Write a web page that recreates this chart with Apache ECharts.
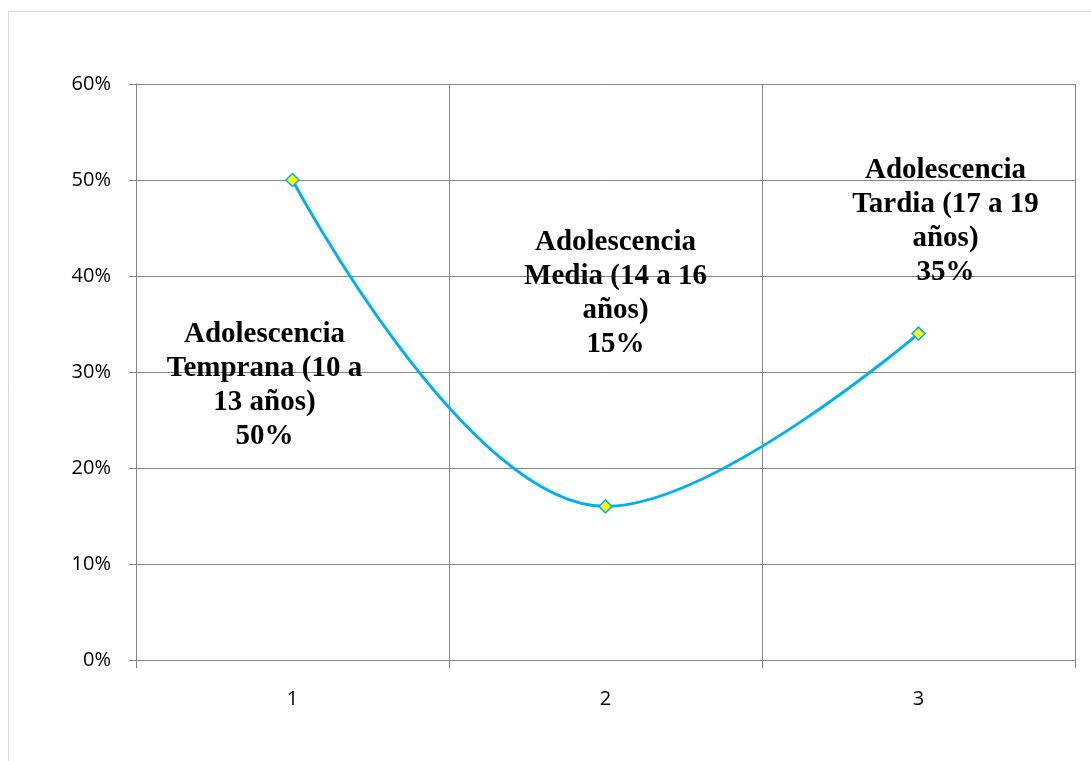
<!DOCTYPE html>
<html><head><meta charset="utf-8">
<script src="https://cdn.jsdelivr.net/npm/echarts@6/dist/echarts.min.js"></script>
<style>html,body{margin:0;padding:0;background:#fff}#c{width:1091px;height:761px}</style>
</head><body><div id="c"></div>
<script>
const categories = ['1', '2', '3'];
const values = [0.50, 0.16, 0.34];
const labelTexts = [
  'Adolescencia\nTemprana (10 a\n13 años)\n50%',
  'Adolescencia\nMedia (14 a 16\naños)\n15%',
  'Adolescencia\nTardia (17 a 19\naños)\n35%'
];
const yTicks = [0, 0.1, 0.2, 0.3, 0.4, 0.5, 0.6];

const labelOffsets = [[-28, 206], [10, -213], [27, -112]];

const chart = echarts.init(document.getElementById('c'));
chart.setOption({
  animation: false,
  graphic: [{type: 'rect', shape: {x: 8.5, y: 11.5, width: 1200, height: 900}, style: {fill: 'none', stroke: '#d9d9d9', lineWidth: 1}, silent: true}],
  grid: {left: 136, right: 16, top: 84, bottom: 101},
  xAxis: {
    type: 'category', data: categories, boundaryGap: true,
    axisLine: {lineStyle: {color: '#868686', width: 1}},
    axisTick: {show: true, length: 8, lineStyle: {color: '#868686'}},
    splitLine: {show: true, lineStyle: {color: '#868686', width: 1}},
    axisLabel: {color: '#000', fontSize: 20, fontFamily: 'Open Sans', margin: 29}
  },
  yAxis: {
    type: 'value', min: yTicks[0], max: yTicks[yTicks.length - 1], interval: 0.1,
    axisLine: {show: true, lineStyle: {color: '#868686', width: 1}},
    axisTick: {show: true, length: 7, lineStyle: {color: '#868686'}},
    splitLine: {show: true, lineStyle: {color: '#868686', width: 1}},
    axisLabel: {color: '#000', fontSize: 20, fontFamily: 'Open Sans', margin: 25,
      formatter: v => Math.round(v * 100) + '%'}
  },
  series: [{
    type: 'line', smooth: 0.4,
    data: values.map((v, i) => ({
      value: v,
      label: {show: true, formatter: labelTexts[i], offset: labelOffsets[i], position: 'inside'}
    })),
    lineStyle: {color: '#00b0f0', width: 3},
    symbol: 'diamond', symbolSize: 13,
    itemStyle: {color: '#ffff00', borderColor: '#00b0f0', borderWidth: 1.5},
    label: {fontFamily: 'Liberation Serif', fontWeight: 'bold', fontSize: 29, color: '#000', lineHeight: 34, align: 'center'}
  }]
});
</script></body></html>
